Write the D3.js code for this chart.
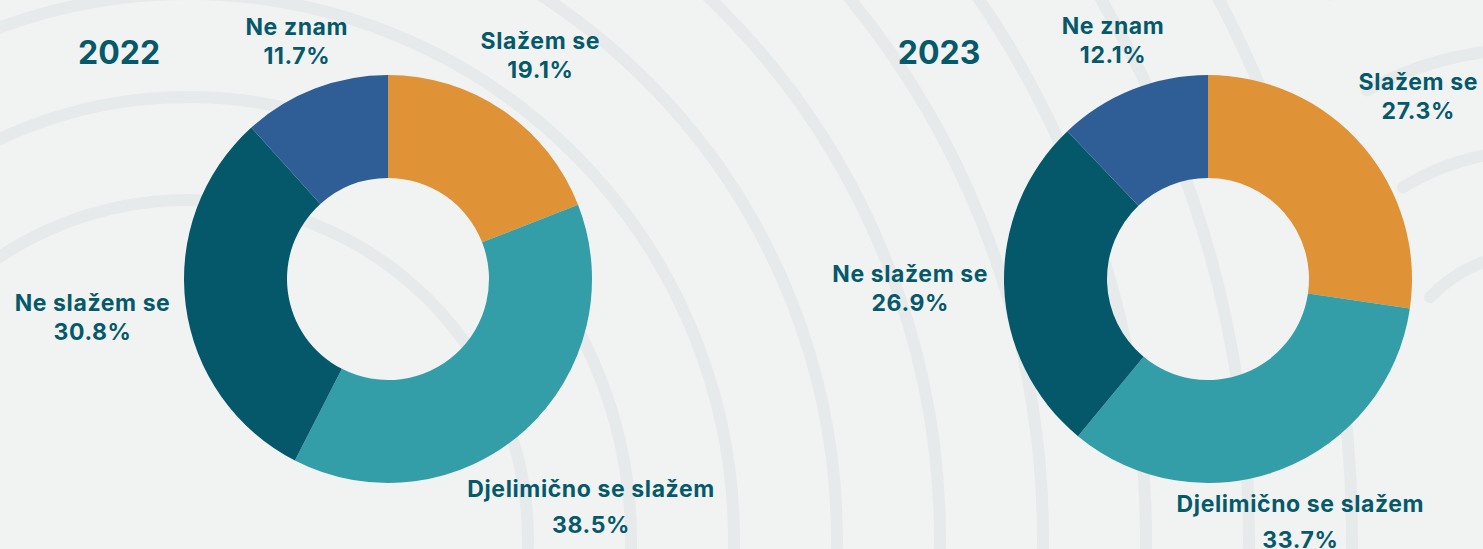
<!DOCTYPE html>
<html>
<head>
<meta charset="utf-8">
<script src="https://cdn.jsdelivr.net/npm/d3@7"></script>
<style>
  html, body { margin: 0; padding: 0; background: #f1f3f2; }
  svg { display: block; }
  text { font-family: Inter, "Open Sans", sans-serif; font-weight: 700; fill: #05596a; }
</style>
</head>
<body>
<div class="chart"></div>
<script>
// data
const categories = ["Slažem se", "Djelimično se slažem", "Ne slažem se", "Ne znam"]
const years = ["2022", "2023"]
const values2022 = [19.1, 38.5, 30.8, 11.7]
const values2023 = [27.3, 33.7, 26.9, 12.1]
const colors = ["#df9236", "#339ea8", "#04586a", "#2f5e97"]

const width = 1483
const height = 549

const svg = d3.select(".chart").append("svg")
  .attr("width", width)
  .attr("height", height)

svg.append("rect")
  .attr("width", width)
  .attr("height", height)
  .attr("fill", "#f1f3f2")

// decorative rings in the background
const deco = svg.append("g")
  .attr("fill", "none")
  .attr("stroke", "#e6eaea")
  .attr("stroke-width", 12)
  .attr("stroke-linecap", "round")

d3.range(9).forEach(k => {
  const p = d3.path()
  const r = 340 + 103 * k
  p.moveTo(188 + r, 540)
  p.arc(188, 540, r, 0, Math.PI * 2)
  deco.append("path").attr("d", p.toString())
})

const rightRings = [[137, -0.816], [240, -0.557], [342, -0.496], [444, -0.467]]
rightRings.forEach(([r, a]) => {
  const p = d3.path()
  const a0 = a - Math.PI / 2
  const a1 = 0.9 - Math.PI / 2
  p.moveTo(1530 + r * Math.cos(a0), 391 + r * Math.sin(a0))
  p.arc(1530, 391, r, a0, a1)
  deco.append("path").attr("d", p.toString())
})

// donuts
const xScale = d3.scalePoint().domain(years).range([388, 1208])
const cy = 279
const colorScale = d3.scaleOrdinal().domain(categories).range(colors)

const pie = d3.pie().sort(null).value(d => d.value)
const arc = d3.arc().innerRadius(101).outerRadius(204)

const labelRadius = {
  "2022": [270, 303, 298, 254],
  "2023": [278, 257, 298, 256]
}
const lineGap = [29, 36, 29, 29]

const series = [values2022, values2023]

years.forEach((year, i) => {
  const data = categories.map((c, j) => ({ category: c, value: series[i][j] }))
  const arcs = pie(data)
  const cx = xScale(year)

  const g = svg.append("g")
    .attr("transform", `translate(${cx},${cy})`)

  g.selectAll("path")
    .data(arcs)
    .join("path")
      .attr("d", arc)
      .attr("fill", d => colorScale(d.data.category))

  const labels = g.selectAll("g.label")
    .data(arcs)
    .join("g")
      .attr("class", "label")
      .attr("transform", (d, j) => {
        const mid = (d.startAngle + d.endAngle) / 2
        const r = labelRadius[year][j]
        return `translate(${r * Math.sin(mid)},${-r * Math.cos(mid)})`
      })

  labels.append("text")
    .attr("text-anchor", "middle")
    .attr("y", -7)
    .attr("font-size", 23)
    .attr("letter-spacing", 0.6)
    .text(d => d.data.category)

  labels.append("text")
    .attr("text-anchor", "middle")
    .attr("y", (d, j) => -7 + lineGap[j])
    .attr("font-size", 23)
    .attr("letter-spacing", 0.6)
    .text(d => d3.format(".1f")(d.data.value) + "%")

  g.append("text")
    .attr("text-anchor", "middle")
    .attr("x", -269)
    .attr("y", 64 - cy)
    .attr("font-size", 32)
    .text(year)
})
</script>
</body>
</html>
